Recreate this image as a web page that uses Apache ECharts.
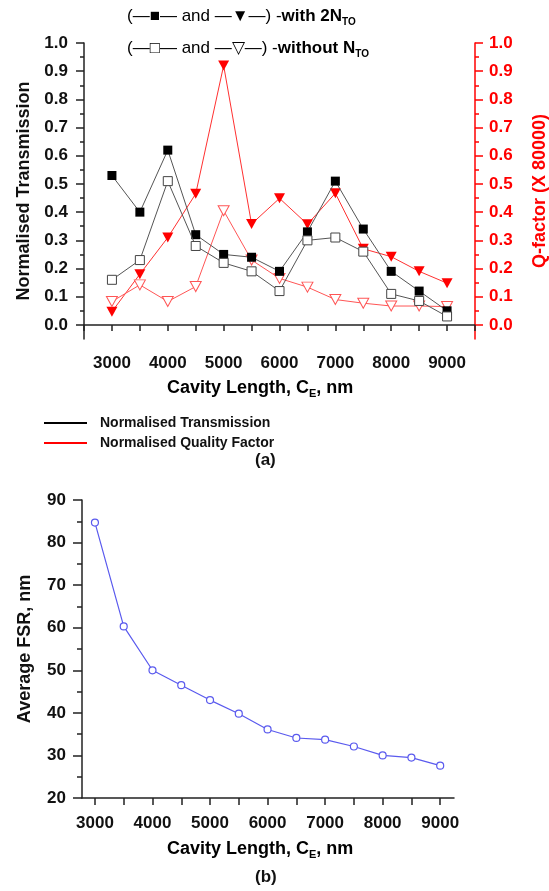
<!DOCTYPE html>
<html>
<head>
<meta charset="utf-8">
<script src="https://cdn.jsdelivr.net/npm/echarts@6/dist/echarts.min.js"></script>
<style>
html,body{margin:0;padding:0;background:#fff;}
#chart{width:549px;height:891px;}
</style>
</head>
<body>
<div id="chart"></div>
<script>
// ---------- data ----------
const cavityLength = [3000, 3500, 4000, 4500, 5000, 5500, 6000, 6500, 7000, 7500, 8000, 8500, 9000];
const transWith2NTO = [0.53, 0.40, 0.62, 0.32, 0.25, 0.24, 0.19, 0.33, 0.51, 0.34, 0.19, 0.12, 0.05];
const transWithoutNTO = [0.16, 0.23, 0.51, 0.28, 0.22, 0.19, 0.12, 0.30, 0.31, 0.26, 0.11, 0.085, 0.03];
const qWith2NTO = [0.047, 0.18, 0.31, 0.465, 0.92, 0.358, 0.449, 0.357, 0.467, 0.27, 0.242, 0.19, 0.148];
const qWithoutNTO = [0.083, 0.142, 0.083, 0.136, 0.405, 0.23, 0.165, 0.134, 0.09, 0.077, 0.067, 0.067, 0.065];
const avgFSR = [84.7, 60.3, 50.0, 46.5, 43.0, 39.8, 36.1, 34.1, 33.7, 32.1, 30.0, 29.5, 27.6];

const topYLabels = [0, 0.1, 0.2, 0.3, 0.4, 0.5, 0.6, 0.7, 0.8, 0.9, 1.0];
const topYMinor = [0.05, 0.15, 0.25, 0.35, 0.45, 0.55, 0.65, 0.75, 0.85, 0.95];
const xLabels = [3000, 4000, 5000, 6000, 7000, 8000, 9000];
const xTicksBottom = [3000, 3500, 4000, 4500, 5000, 5500, 6000, 6500, 7000, 7500, 8000, 8500, 9000];

// ---------- helpers ----------
const pairs = (xs, ys) => xs.map((x, i) => [x, ys[i]]);
const FONT = "'Liberation Sans', Arial, sans-serif";
const AX = '#222';
const RED = '#ff0000';

const chart = echarts.init(document.getElementById('chart'), null, {renderer: 'canvas'});

const tickLabelStyle = (color) => ({
  color: color, fontFamily: FONT, fontWeight: 'bold', fontSize: 17
});

const option = {
  animation: false,
  backgroundColor: '#fff',
  grid: [
    {left: 84, top: 43, width: 391, height: 296, outerBoundsMode: 'none', containLabel: false},
    {left: 82, top: 500, width: 372, height: 298, outerBoundsMode: 'none', containLabel: false}
  ],
  legend: {
    orient: 'vertical',
    left: 39, top: 411,
    itemGap: 6,
    itemWidth: 43, itemHeight: 2,
    icon: 'rect',
    data: ['Normalised Transmission', 'Normalised Quality Factor'],
    textStyle: {fontFamily: FONT, fontWeight: 'bold', fontSize: 14, color: '#111', padding: [0, 0, 0, 8]},
    selectedMode: false
  },
  xAxis: [
    {
      type: 'value', gridIndex: 0, min: 2500, max: 9500, interval: 500,
      axisLine: {lineStyle: {color: AX, width: 1.5}},
      axisTick: {show: true, length: 6, lineStyle: {color: AX, width: 1.5}},
      axisLabel: {customValues: xLabels, formatter: v => String(v), ...tickLabelStyle('#111'), margin: 16},
      splitLine: {show: false}
    },
    {
      type: 'value', gridIndex: 1, min: 2775, max: 9240,
      axisLine: {lineStyle: {color: AX, width: 1.5}},
      axisTick: {show: true, length: 7, customValues: xTicksBottom, lineStyle: {color: AX, width: 1.5}},
      axisLabel: {customValues: xLabels, formatter: v => String(v), ...tickLabelStyle('#111'), margin: 17},
      splitLine: {show: false}
    }
  ],
  yAxis: [
    {
      type: 'value', gridIndex: 0, position: 'left', min: -0.05, max: 1.0,
      name: 'Normalised Transmission', nameLocation: 'middle', nameGap: 50,
      nameTextStyle: {fontFamily: FONT, fontWeight: 'bold', fontSize: 18, color: '#111'},
      axisLine: {show: true, lineStyle: {color: AX, width: 1.5}},
      axisTick: {show: true, length: 8, customValues: topYLabels, lineStyle: {color: AX, width: 1.5}},
      axisLabel: {customValues: topYLabels, formatter: v => v.toFixed(1), ...tickLabelStyle('#111'), margin: 16},
      splitLine: {show: false}
    },
    {
      type: 'value', gridIndex: 0, position: 'right', min: -0.05, max: 1.0,
      name: 'Q-factor (X 80000)', nameLocation: 'middle', nameGap: 56,
      nameTextStyle: {fontFamily: FONT, fontWeight: 'bold', fontSize: 18, color: RED},
      axisLine: {show: true, lineStyle: {color: RED, width: 1.5}},
      axisTick: {show: true, length: 8, customValues: topYLabels, lineStyle: {color: RED, width: 1.5}},
      axisLabel: {customValues: topYLabels, formatter: v => v.toFixed(1), ...tickLabelStyle(RED), margin: 14},
      splitLine: {show: false}
    },
    {
      type: 'value', gridIndex: 0, position: 'left', min: -0.05, max: 1.0,
      axisLine: {show: false},
      axisTick: {show: true, length: 4, customValues: topYMinor, lineStyle: {color: AX, width: 1.5}},
      axisLabel: {show: false},
      splitLine: {show: false}
    },
    {
      type: 'value', gridIndex: 0, position: 'right', min: -0.05, max: 1.0,
      axisLine: {show: false},
      axisTick: {show: true, length: 4, customValues: topYMinor, lineStyle: {color: RED, width: 1.5}},
      axisLabel: {show: false},
      splitLine: {show: false}
    },
    {
      type: 'value', gridIndex: 1, min: 20, max: 90, interval: 10,
      name: 'Average FSR, nm', nameLocation: 'middle', nameGap: 48,
      nameTextStyle: {fontFamily: FONT, fontWeight: 'bold', fontSize: 18, color: '#111'},
      axisLine: {show: true, lineStyle: {color: AX, width: 1.5}},
      axisTick: {show: true, length: 9, lineStyle: {color: AX, width: 1.5}},
      minorTick: {show: true, splitNumber: 2, length: 5, lineStyle: {color: AX, width: 1.5}},
      axisLabel: {...tickLabelStyle('#111'), margin: 16},
      splitLine: {show: false}
    }
  ],
  series: [
    {
      name: 'Normalised Quality Factor', type: 'line', xAxisIndex: 0, yAxisIndex: 1,
      data: pairs(cavityLength, qWith2NTO),
      symbol: 'triangle', symbolRotate: 180, symbolSize: [11, 10],
      lineStyle: {color: '#ff3030', width: 1},
      itemStyle: {color: RED, borderWidth: 0},
      z: 2
    },
    {
      name: 'Q without NTO', type: 'line', xAxisIndex: 0, yAxisIndex: 1,
      data: pairs(cavityLength, qWithoutNTO),
      symbol: 'triangle', symbolRotate: 180, symbolSize: [11, 10],
      lineStyle: {color: '#ff5555', width: 1},
      itemStyle: {color: '#fff', borderColor: '#ff5555', borderWidth: 1},
      z: 3
    },
    {
      name: 'Normalised Transmission', type: 'line', xAxisIndex: 0, yAxisIndex: 0,
      data: pairs(cavityLength, transWith2NTO),
      symbol: 'rect', symbolSize: 9,
      lineStyle: {color: '#555', width: 1},
      itemStyle: {color: '#000', borderWidth: 0},
      z: 4
    },
    {
      name: 'T without NTO', type: 'line', xAxisIndex: 0, yAxisIndex: 0,
      data: pairs(cavityLength, transWithoutNTO),
      symbol: 'rect', symbolSize: 9,
      lineStyle: {color: '#555', width: 1},
      itemStyle: {color: '#fff', borderColor: '#444', borderWidth: 1},
      z: 5
    },
    {
      name: 'Average FSR', type: 'line', xAxisIndex: 1, yAxisIndex: 4,
      data: pairs(cavityLength, avgFSR),
      symbol: 'circle', symbolSize: 7,
      lineStyle: {color: '#5a5aee', width: 1.2},
      itemStyle: {color: '#fff', borderColor: '#5a5aee', borderWidth: 1.2}
    }
  ],
  graphic: [
    {
      type: 'text', left: 127, top: 8,
      style: {
        text: '{n|(}{k|—■—}{n| and }{r|—▼—}{n|) -}{b|with 2N}{s|TO}',
        rich: {
          n: {fontFamily: FONT, fontSize: 17, color: '#111', lineHeight: 22},
          k: {fontFamily: FONT, fontSize: 17, color: '#111', lineHeight: 22},
          r: {fontFamily: FONT, fontSize: 17, color: RED, lineHeight: 22},
          b: {fontFamily: FONT, fontSize: 17, fontWeight: 'bold', color: '#111', lineHeight: 22},
          s: {fontFamily: FONT, fontSize: 10, fontWeight: 'bold', color: '#111', lineHeight: 10, verticalAlign: 'bottom'}
        }
      }
    },
    {
      type: 'text', left: 127, top: 40,
      style: {
        text: '{n|(}{k|—□—}{n| and }{r|—▽—}{n|) -}{b|without N}{s|TO}',
        rich: {
          n: {fontFamily: FONT, fontSize: 17, color: '#111', lineHeight: 22},
          k: {fontFamily: FONT, fontSize: 17, color: '#111', lineHeight: 22},
          r: {fontFamily: FONT, fontSize: 17, color: RED, lineHeight: 22},
          b: {fontFamily: FONT, fontSize: 17, fontWeight: 'bold', color: '#111', lineHeight: 22},
          s: {fontFamily: FONT, fontSize: 10, fontWeight: 'bold', color: '#111', lineHeight: 10, verticalAlign: 'bottom'}
        }
      }
    },
    {
      type: 'text', left: 167, top: 379,
      style: {
        text: '{t|Cavity Length, C}{s|E}{t|, nm}',
        rich: {
          t: {fontFamily: FONT, fontSize: 18, fontWeight: 'bold', color: '#111', lineHeight: 22},
          s: {fontFamily: FONT, fontSize: 11, fontWeight: 'bold', color: '#111', lineHeight: 11, verticalAlign: 'bottom'}
        }
      }
    },
    {
      type: 'text', left: 167, top: 840,
      style: {
        text: '{t|Cavity Length, C}{s|E}{t|, nm}',
        rich: {
          t: {fontFamily: FONT, fontSize: 18, fontWeight: 'bold', color: '#111', lineHeight: 22},
          s: {fontFamily: FONT, fontSize: 11, fontWeight: 'bold', color: '#111', lineHeight: 11, verticalAlign: 'bottom'}
        }
      }
    },
    {
      type: 'text', left: 255, top: 452,
      style: {text: '(a)', fontFamily: FONT, fontSize: 17, fontWeight: 'bold', fill: '#111'}
    },
    {
      type: 'text', left: 255, top: 869,
      style: {text: '(b)', fontFamily: FONT, fontSize: 17, fontWeight: 'bold', fill: '#111'}
    }
  ]
};

chart.setOption(option);
</script>
</body>
</html>
